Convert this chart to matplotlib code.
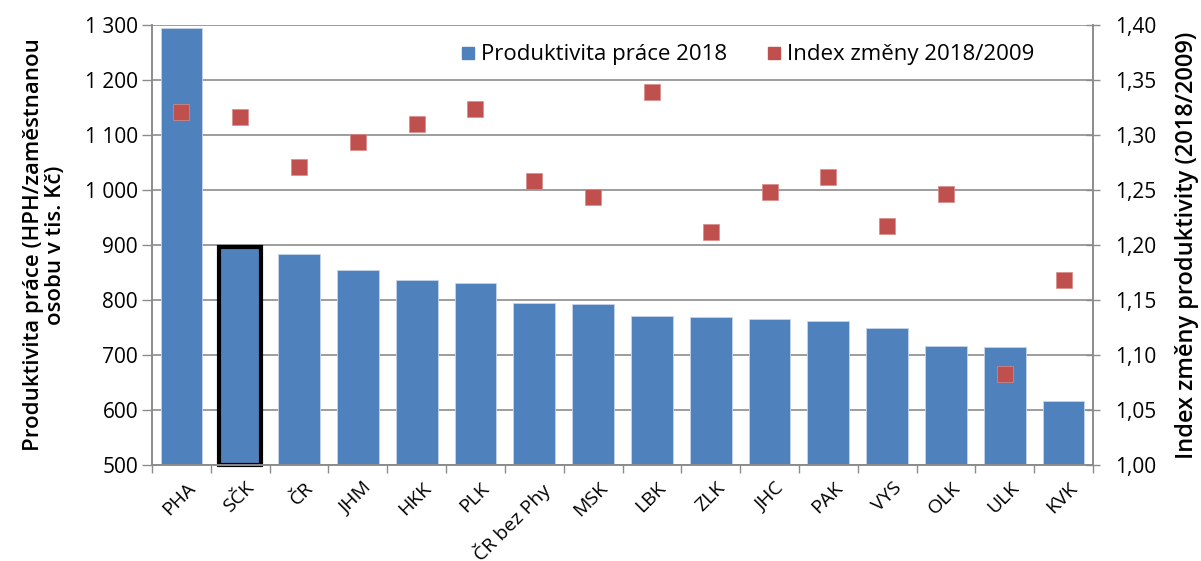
import numpy as np
import matplotlib.pyplot as plt
import matplotlib.transforms as mtransforms
from matplotlib.ticker import FuncFormatter, FixedLocator
from matplotlib.lines import Line2D

# Data
regions = ['PHA', 'SČK', 'ČR', 'JHM', 'HKK', 'PLK', 'ČR bez Phy', 'MSK',
           'LBK', 'ZLK', 'JHC', 'PAK', 'VYS', 'OLK', 'ULK', 'KVK']
productivity_2018 = [1294, 897, 883, 854, 837, 831, 795, 792,
                     771, 769, 765, 761, 750, 717, 714, 616]
index_2018_2009 = [1.321, 1.316, 1.271, 1.294, 1.310, 1.324, 1.258, 1.244,
                   1.339, 1.212, 1.248, 1.262, 1.217, 1.246, 1.083, 1.168]
highlight = 'SČK'

bar_color = '#4F81BD'
marker_color = '#C0504D'
grid_color = '#8C8C8C'
y_min, y_max = 500, 1300

plt.rcParams['font.family'] = ['Open Sans', 'DejaVu Sans']

fig = plt.figure(figsize=(12.01, 5.61), dpi=100)
ax1 = fig.add_axes([152 / 1201, 1 - 465 / 561, 941 / 1201, 440 / 561])
ax2 = ax1.twinx()

x = np.arange(len(regions))
heights = np.array(productivity_2018) - y_min
bars = ax1.bar(x, heights, bottom=y_min, width=0.71, color=bar_color,
               edgecolor='#C6D5EA', linewidth=0.6, zorder=2)
hi = regions.index(highlight)
bars[hi].set_edgecolor('black')
bars[hi].set_linewidth(3.0)
bars[hi].set_clip_on(False)

ax2.plot(x, index_2018_2009, linestyle='none', marker='s', markersize=11,
         color=marker_color, markeredgecolor='#D98B89', markeredgewidth=0.5,
         zorder=3)

# left axis
ax1.set_ylim(y_min, y_max)
ax1.set_xlim(-0.5, len(regions) - 0.5)
ax1.set_yticks(np.arange(y_min, y_max + 1, 100))
ax1.yaxis.set_major_formatter(FuncFormatter(
    lambda v, p: f'{int(v):,}'.replace(',', ' ')))
ax1.grid(axis='y', color=grid_color, linewidth=1.2, zorder=0)
ax1.set_axisbelow(True)
ax1.tick_params(axis='y', length=7, width=1, color=grid_color,
                labelsize=15, pad=3)
ax1.set_ylabel('Produktivita práce (HPH/zaměstnanou\nosobu v tis. Kč)',
               fontsize=16, fontweight='semibold', labelpad=14,
               linespacing=1.05)

# x axis: labels centred, tick marks between categories
ax1.set_xticks(x)
ax1.set_xticklabels(regions, rotation=45, ha='right', rotation_mode='anchor',
                    fontsize=14)
ax1.tick_params(axis='x', length=0, pad=10)
shift = mtransforms.ScaledTranslation(5 / 100, 0, fig.dpi_scale_trans)
for lab in ax1.get_xticklabels():
    lab.set_transform(lab.get_transform() + shift)
ax1.xaxis.set_minor_locator(FixedLocator(np.arange(-0.5, len(regions), 1.0)))
ax1.tick_params(axis='x', which='minor', length=5.5, width=1, color=grid_color)

# right axis
ax2.set_ylim(1.0, 1.4)
ax2.set_yticks(np.arange(1.0, 1.401, 0.05))
ax2.yaxis.set_major_formatter(FuncFormatter(
    lambda v, p: f'{v:.2f}'.replace('.', ',')))
ax2.tick_params(axis='y', direction='inout', length=10, width=1,
                color=grid_color, labelsize=15, pad=11)
ax2.set_ylabel('Index změny produktivity (2018/2009)', fontsize=17,
               fontweight='semibold', labelpad=13)

for ax in (ax1, ax2):
    ax.spines['top'].set_visible(False)
    for side in ('left', 'right', 'bottom'):
        ax.spines[side].set_color(grid_color)
        ax.spines[side].set_linewidth(1.2)

handles = [
    Line2D([], [], linestyle='none', marker='s', markersize=9,
           color=bar_color, label='Produktivita práce 2018'),
    Line2D([], [], linestyle='none', marker='s', markersize=9,
           color=marker_color, label='Index změny 2018/2009'),
]
ax2.legend(handles=handles, loc='center', bbox_to_anchor=(0.632, 0.932),
           ncol=2, frameon=False, fontsize=16, handletextpad=0.2,
           handlelength=0.8, columnspacing=1.7)

fig.savefig('out.png', dpi=100)
